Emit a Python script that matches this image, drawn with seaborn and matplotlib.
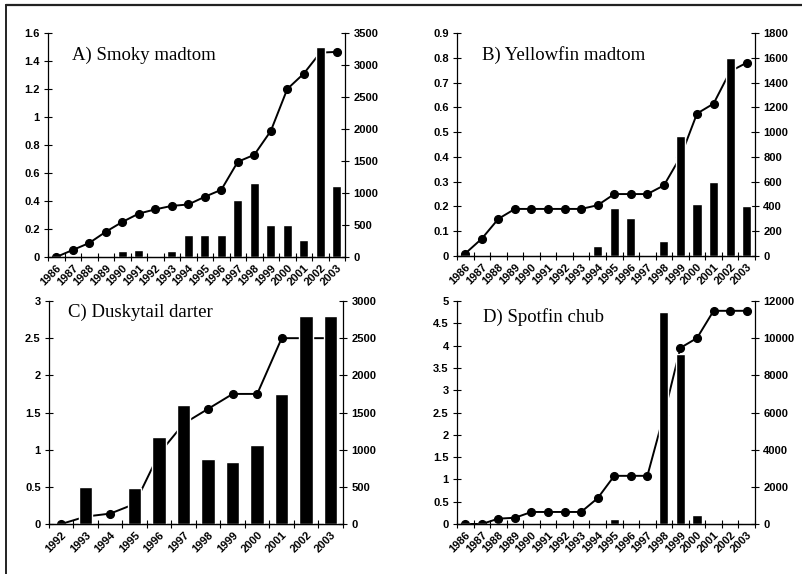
import numpy as np
import matplotlib
matplotlib.use("Agg")
import matplotlib.pyplot as plt
from matplotlib.lines import Line2D
from matplotlib.ticker import FuncFormatter
import seaborn as sns

# Years on the category axis
years_86 = [str(y) for y in range(1986, 2004)]
years_92 = [str(y) for y in range(1992, 2004)]

# A) Smoky madtom
smoky_line = [0.0, 0.05, 0.10, 0.18, 0.25, 0.31, 0.34, 0.365, 0.375, 0.43,
              0.48, 0.68, 0.73, 0.90, 1.20, 1.31, 1.46, 1.465]
smoky_bars = [0, 0, 0, 0, 90, 110, 0, 100, 350, 350,
              350, 890, 1160, 500, 500, 260, 3280, 1110]

# B) Yellowfin madtom
yellow_line = [0.01, 0.07, 0.15, 0.19, 0.19, 0.19, 0.19, 0.19, 0.205, 0.25,
               0.25, 0.25, 0.285, 0.40, 0.575, 0.615, 0.745, 0.78]
yellow_bars = [0, 0, 0, 0, 0, 0, 0, 0, 80, 385,
               305, 0, 125, 970, 420, 600, 1600, 400]

# C) Duskytail darter
dusky_line = [0.0, 0.10, 0.14, 0.27, 0.95, 1.35, 1.55, 1.75, 1.75, 2.5, 2.5, 2.5]
dusky_bars = [0, 500, 0, 480, 1170, 1600, 870, 840, 1060, 1750, 2800, 2800]

# D) Spotfin chub
spotfin_line = [0.0, 0.0, 0.12, 0.14, 0.27, 0.27, 0.27, 0.27, 0.58, 1.08,
                1.08, 1.08, 2.45, 3.95, 4.17, 4.78, 4.78, 4.78]
spotfin_bars = [0, 0, 0, 0, 0, 0, 0, 0, 0, 280,
                0, 0, 11400, 9150, 500, 0, 0, 0]

sns.set_theme(style="ticks")
plt.rcParams["font.family"] = ["Liberation Sans", "DejaVu Sans"]
plt.rcParams["axes.edgecolor"] = "black"
plt.rcParams["xtick.color"] = "black"
plt.rcParams["ytick.color"] = "black"
plt.rcParams["text.color"] = "black"

fmt = FuncFormatter(lambda v, p: f"{v:g}")


def draw_panel(rect, years, line_vals, bar_vals, title, title_xy,
               left_max, left_step, right_max, right_step):
    ax = fig.add_axes(rect)
    ax2 = ax.twinx()
    n = len(years)

    # line on the left scale, bars on the right scale (drawn on top)
    sns.pointplot(x=years, y=line_vals, ax=ax, color="black", markers="o",
                  linestyles="-", errorbar=None, markersize=5.5, linewidth=1.4)
    sns.barplot(x=years, y=bar_vals, ax=ax2, color="black", width=0.55,
                saturation=1)

    ax.set_xlim(-0.5, n - 0.5)
    ax.set_ylim(0, left_max)
    ax2.set_ylim(0, right_max)
    ax.set_yticks(np.arange(0, left_max + left_step / 2, left_step))
    ax2.set_yticks(np.arange(0, right_max + right_step / 2, right_step))
    ax.yaxis.set_major_formatter(fmt)
    ax2.yaxis.set_major_formatter(fmt)

    # category labels centred, ticks between categories
    ax.set_xticks(range(n))
    ax.set_xticklabels(years, rotation=45, ha="right", rotation_mode="anchor",
                       fontsize=8, fontweight="bold")
    ax.set_xticks(np.arange(-0.5, n, 1.0), minor=True)
    ax.tick_params(axis="x", which="major", length=0, pad=4)
    ax.tick_params(axis="x", which="minor", direction="inout", length=6, width=0.8)
    ax.tick_params(axis="y", direction="inout", length=6, width=0.8,
                   labelsize=8, pad=3)
    ax2.tick_params(axis="y", direction="inout", length=6, width=0.8,
                    labelsize=8, pad=3)
    for lab in ax.get_yticklabels() + ax2.get_yticklabels():
        lab.set_fontweight("bold")

    for a in (ax, ax2):
        a.set_xlabel("")
        a.set_ylabel("")
        a.spines["top"].set_visible(False)
        for s in a.spines.values():
            s.set_linewidth(0.9)
    ax.spines["right"].set_visible(False)
    ax2.spines["left"].set_visible(False)

    ax2.text(title_xy[0], title_xy[1], title, transform=ax.transAxes,
             fontsize=13.5, family="Liberation Serif", ha="left", va="center")
    return ax, ax2


fig = plt.figure(figsize=(8.03, 5.74), dpi=100)

draw_panel([0.0598, 0.5523, 0.3699, 0.3902], years_86, smoky_line, smoky_bars,
           "A) Smoky madtom", (0.08, 0.90), 1.6, 0.2, 3500, 500)
draw_panel([0.5691, 0.5540, 0.3711, 0.3885], years_86, yellow_line, yellow_bars,
           "B) Yellowfin madtom", (0.084, 0.90), 0.9, 0.1, 1800, 200)
draw_panel([0.0610, 0.0871, 0.3661, 0.3885], years_92, dusky_line, dusky_bars,
           "C) Duskytail darter", (0.065, 0.95), 3, 0.5, 3000, 500)
draw_panel([0.5691, 0.0871, 0.3711, 0.3885], years_86, spotfin_line, spotfin_bars,
           "D) Spotfin chub", (0.087, 0.93), 5, 0.5, 12000, 2000)

# scan frame edges (top and left)
fig.add_artist(Line2D([0.007, 1.0], [0.991, 0.991], transform=fig.transFigure,
                      color="#222222", linewidth=1.6))
fig.add_artist(Line2D([0.008, 0.008], [0.0, 0.991], transform=fig.transFigure,
                      color="#222222", linewidth=1.4))

fig.savefig("out.png", dpi=100)
